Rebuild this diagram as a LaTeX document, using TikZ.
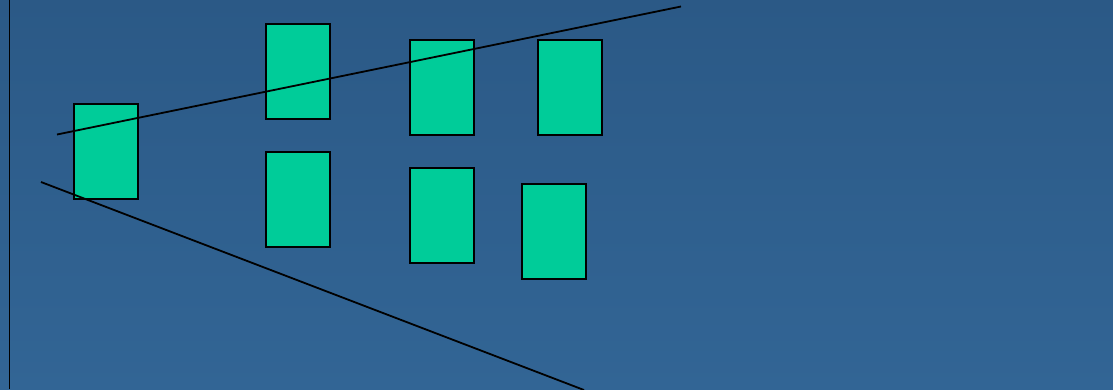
\documentclass[tikz,border=0pt]{standalone}
\begin{document}
\begin{tikzpicture}[x=1pt,y=-1pt,
  card/.style={draw=black,line width=1.8pt,fill=cardgreen,minimum width=64pt,minimum height=95pt,inner sep=0pt,anchor=north west},
  ray/.style={draw=black,line width=1.8pt}]
\definecolor{cardgreen}{HTML}{00CC99}
\definecolor{bgtop}{HTML}{2B5986}
\definecolor{bgbot}{HTML}{326595}
\useasboundingbox (0,0) rectangle (1113,389);
\shade[top color=bgtop,bottom color=bgbot] (0,0) rectangle (1113,389);
\coordinate (vt) at (9.5,0);
\coordinate (vb) at (9.5,389);
\draw[ray] (vt) -- (vb);
\node[card] (c1) at (73,103) {};
\node[card] (c2) at (265,23) {};
\node[card] (c3) at (265,151) {};
\node[card] (c4) at (409,39) {};
\node[card] (c5) at (409,167) {};
\node[card] (c6) at (537,39) {};
\node[card] (c7) at (521,183) {};
\coordinate (u1) at (57,134.5);
\coordinate (u2) at (681,6.5);
\coordinate (l1) at (41,182);
\coordinate (l2) at (584,390);
\draw[ray] (u1) -- (u2);
\draw[ray] (l1) -- (l2);
\end{tikzpicture}
\end{document}
